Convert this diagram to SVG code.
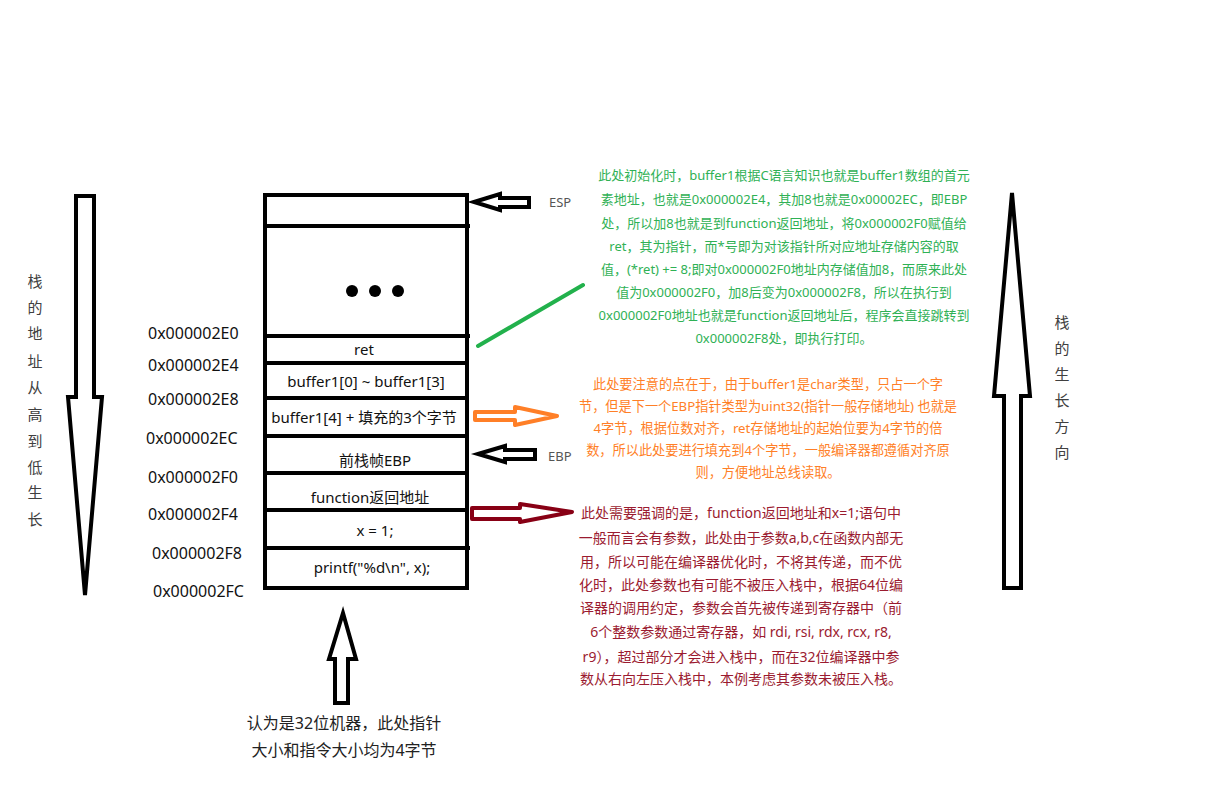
<svg xmlns="http://www.w3.org/2000/svg" width="1209" height="800" viewBox="0 0 1209 800">
<style>
text{font-family:"Noto Sans","Noto Sans CJK SC",sans-serif}
.cell{font-size:15px;fill:#111;text-anchor:middle}
.addr{font-size:16px;fill:#111}
.vert{font-size:15px;fill:#404040;text-anchor:middle}
.lbl{font-size:13px;fill:#555}
.g{font-size:13px;fill:#2fb155;text-anchor:middle}
.o{font-size:13.2px;fill:#ff7f27;text-anchor:middle}
.r{font-size:14px;fill:#9b1b30;text-anchor:middle}
.b{font-size:16px;fill:#222;text-anchor:middle}
.blk{fill:#fff;stroke:#000;stroke-width:4;stroke-linejoin:miter}
.row{stroke:#000;stroke-width:4}
</style>
<rect width="1209" height="800" fill="#fff"/>
<g id="stack">
<rect x="265" y="195" width="202" height="393" fill="#fff" stroke="#000" stroke-width="4"/>
<line class="row" x1="265" y1="226" x2="470" y2="226"/>
<line class="row" x1="265" y1="336" x2="470" y2="336"/>
<line class="row" x1="265" y1="363" x2="467" y2="363"/>
<line class="row" x1="265" y1="398" x2="467" y2="398"/>
<line class="row" x1="265" y1="436" x2="467" y2="436"/>
<line class="row" x1="265" y1="473" x2="467" y2="473"/>
<line class="row" x1="267" y1="510" x2="467" y2="510"/>
<line class="row" x1="265" y1="548" x2="470" y2="548"/>
<circle cx="352" cy="291" r="6"/><circle cx="375" cy="291" r="6"/><circle cx="398" cy="291" r="6"/>
<text class="cell" x="364" y="355">ret</text>
<text class="cell" x="366" y="387">buffer1[0] ~ buffer1[3]</text>
<text class="cell" x="364" y="423">buffer1[4] + 填充的3个字节</text>
<text class="cell" x="375" y="466">前栈帧EBP</text>
<text class="cell" x="370" y="503">function返回地址</text>
<text class="cell" x="375" y="536">x = 1;</text>
<text class="cell" x="372" y="573">printf("%d\n", x);</text>
</g>
<g id="addresses">
<text class="addr" x="148" y="339">0x000002E0</text>
<text class="addr" x="148" y="371">0x000002E4</text>
<text class="addr" x="148" y="405">0x000002E8</text>
<text class="addr" x="146" y="444">0x000002EC</text>
<text class="addr" x="148" y="483">0x000002F0</text>
<text class="addr" x="148" y="520">0x000002F4</text>
<text class="addr" x="152" y="559">0x000002F8</text>
<text class="addr" x="153" y="597">0x000002FC</text>
</g>
<g id="connectors">
<polygon class="blk" points="474,202 500,194 500,198 529,198 529,207 500,207 500,210"/>
<polygon class="blk" points="478,454 505,446 505,450 535,450 535,459 505,459 505,462"/>
<polygon fill="#fff" stroke="#ff7f27" stroke-width="4" stroke-linejoin="round" points="475,412 515,412 515,407 557,416 515,425 515,420 475,420"/>
<polygon fill="#fff" stroke="#880015" stroke-width="4" stroke-linejoin="round" points="472,508 520,508 520,504 572,512 520,522 520,519 472,519"/>
<line x1="478" y1="346" x2="583" y2="285" stroke="#22b14c" stroke-width="4" stroke-linecap="round"/>
<polygon class="blk" points="76,196 94,196 94,397 102,397 85,595 68,397 76,397"/>
<polygon class="blk" points="1012,193 1030,396 1021,396 1021,588 1004,588 1004,396 994,396"/>
<polygon class="blk" points="343,613 356,659 348,659 348,703 335,703 335,659 329,659"/>
</g>
<g id="esp-label"><text class="lbl" x="549" y="207">ESP</text></g>
<g id="ebp-label"><text class="lbl" x="548" y="461">EBP</text></g>
<g id="left-label">
<text class="vert" x="35" y="287">栈</text><text class="vert" x="35" y="313">的</text><text class="vert" x="35" y="339">地</text><text class="vert" x="35" y="367">址</text><text class="vert" x="35" y="393">从</text><text class="vert" x="35" y="420">高</text><text class="vert" x="35" y="447">到</text><text class="vert" x="35" y="473">低</text><text class="vert" x="35" y="498">生</text><text class="vert" x="35" y="525">长</text>
</g>
<g id="right-label">
<text class="vert" x="1062" y="328">栈</text><text class="vert" x="1062" y="354">的</text><text class="vert" x="1062" y="380">生</text><text class="vert" x="1062" y="406">长</text><text class="vert" x="1062" y="432">方</text><text class="vert" x="1062" y="458">向</text>
</g>
<g id="green-note">
<text class="g" x="784" y="180">此处初始化时，buffer1根据C语言知识也就是buffer1数组的首元</text>
<text class="g" x="784" y="204">素地址，也就是0x000002E4，其加8也就是0x00002EC，即EBP</text>
<text class="g" x="784" y="228">处，所以加8也就是到function返回地址，将0x000002F0赋值给</text>
<text class="g" x="784" y="251">ret，其为指针，而*号即为对该指针所对应地址存储内容的取</text>
<text class="g" x="784" y="274">值，(*ret) += 8;即对0x000002F0地址内存储值加8，而原来此处</text>
<text class="g" x="784" y="297">值为0x000002F0，加8后变为0x000002F8，所以在执行到</text>
<text class="g" x="784" y="320">0x000002F0地址也就是function返回地址后，程序会直接跳转到</text>
<text class="g" x="784" y="343">0x000002F8处，即执行打印。</text>
</g>
<g id="orange-note">
<text class="o" x="768" y="389">此处要注意的点在于，由于buffer1是char类型，只占一个字</text>
<text class="o" x="768" y="411">节，但是下一个EBP指针类型为uint32(指针一般存储地址) 也就是</text>
<text class="o" x="768" y="433">4字节，根据位数对齐，ret存储地址的起始位要为4字节的倍</text>
<text class="o" x="768" y="455">数，所以此处要进行填充到4个字节，一般编译器都遵循对齐原</text>
<text class="o" x="768" y="477">则，方便地址总线读取。</text>
</g>
<g id="red-note">
<text class="r" x="741" y="518">此处需要强调的是，function返回地址和x=1;语句中</text>
<text class="r" x="741" y="543">一般而言会有参数，此处由于参数a,b,c在函数内部无</text>
<text class="r" x="741" y="567">用，所以可能在编译器优化时，不将其传递，而不优</text>
<text class="r" x="741" y="590">化时，此处参数也有可能不被压入栈中，根据64位编</text>
<text class="r" x="741" y="613">译器的调用约定，参数会首先被传递到寄存器中（前</text>
<text class="r" x="741" y="637">6个整数参数通过寄存器，如 rdi, rsi, rdx, rcx, r8,</text>
<text class="r" x="741" y="662">r9），超过部分才会进入栈中，而在32位编译器中参</text>
<text class="r" x="741" y="684">数从右向左压入栈中，本例考虑其参数未被压入栈。</text>
</g>
<g id="bottom-note">
<text class="b" x="344" y="729">认为是32位机器，此处指针</text>
<text class="b" x="344" y="756">大小和指令大小均为4字节</text>
</g>
</svg>
